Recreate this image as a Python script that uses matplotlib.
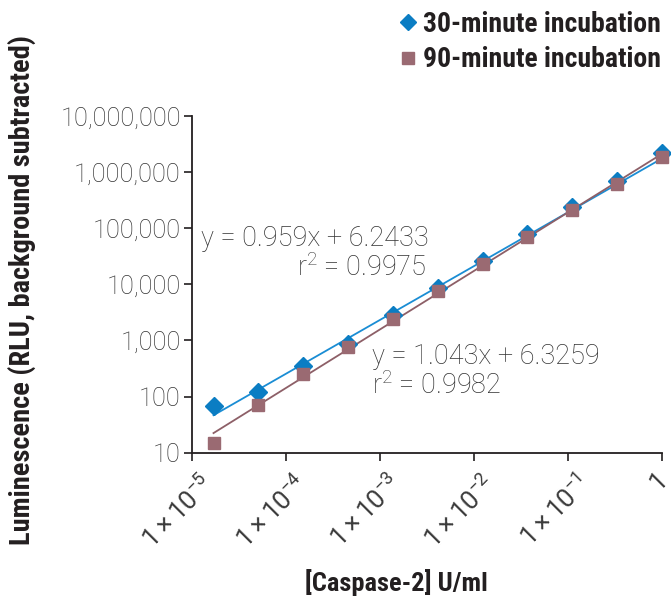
import numpy as np
import matplotlib
matplotlib.use('Agg')
import matplotlib.pyplot as plt
import matplotlib.transforms as mtransforms
from matplotlib.font_manager import FontProperties
from matplotlib.ticker import FixedLocator, FixedFormatter, NullLocator

# three-fold dilution series of caspase-2, highest first (U/ml)
conc = [1, 1/3, 1/9, 1/27, 1/81, 1/243, 1/729, 1/2187, 1/6561, 1/19683, 1/59049]
rlu_30min = [2160000, 693000, 235000, 77800, 26400, 8700, 2840, 880, 355, 120, 69]
rlu_90min = [1880000, 614000, 211000, 68700, 23000, 7600, 2410, 751, 252, 70, 15]

# log10-log10 regressions: slope, intercept, r^2
fit_30min = (0.959, 6.2433, 0.9975)
fit_90min = (1.043, 6.3259, 0.9982)

x_ticks = [1e-5, 1e-4, 1e-3, 1e-2, 1e-1, 1]
x_tick_labels = [r'$1\times10^{-5}$', r'$1\times10^{-4}$', r'$1\times10^{-3}$',
                 r'$1\times10^{-2}$', r'$1\times10^{-1}$', '1']
y_ticks = [10, 100, 1000, 10000, 100000, 1000000, 10000000]
y_tick_labels = ['10', '100', '1,000', '10,000', '100,000', '1,000,000', '10,000,000']

blue = '#0b7dc3'
blue_line = '#1a8dd4'
mauve = '#9a6a72'
mauve_line = '#8d5f67'
ink = '#231f20'
grey_text = '#333333'

plt.rcParams['font.family'] = ['Roboto', 'DejaVu Sans']
plt.rcParams['mathtext.default'] = 'regular'
light = dict(family=['Roboto', 'DejaVu Sans'], weight='light')
heavy = dict(family=['Roboto Condensed', 'Liberation Sans Narrow', 'Roboto', 'DejaVu Sans'],
             weight='bold')

fig = plt.figure(figsize=(6.71, 5.97), dpi=100)
ax = fig.add_axes([192 / 671, 144.3 / 597, 470 / 671, 336.7 / 597])

ax.set_xscale('log')
ax.set_yscale('log')
ax.set_xlim(1e-5, 1)
ax.set_ylim(10, 1e7)

# regression lines over the measured range
for (m, b, _), col in [(fit_30min, blue_line), (fit_90min, mauve_line)]:
    lx = np.log10([min(conc), max(conc)])
    ax.plot(10 ** lx, 10 ** (m * lx + b), color=col, lw=1.3, zorder=2)

h30, = ax.plot(conc, rlu_30min, ls='none', marker='D', ms=9, color=blue,
               clip_on=False, zorder=3)
h90, = ax.plot(conc, rlu_90min, ls='none', marker='s', ms=9, color=mauve,
               clip_on=False, zorder=4)

for side in ['top', 'right']:
    ax.spines[side].set_visible(False)
for side in ['left', 'bottom']:
    ax.spines[side].set_color(ink)
    ax.spines[side].set_linewidth(1.3)

ax.xaxis.set_major_locator(FixedLocator(x_ticks))
ax.xaxis.set_major_formatter(FixedFormatter(x_tick_labels))
ax.yaxis.set_major_locator(FixedLocator(y_ticks))
ax.yaxis.set_major_formatter(FixedFormatter(y_tick_labels))
ax.xaxis.set_minor_locator(NullLocator())
ax.yaxis.set_minor_locator(NullLocator())
ax.tick_params(axis='both', color=ink, width=1.2, length=6, labelcolor=grey_text)
ax.tick_params(axis='y', pad=2)
ax.tick_params(axis='x', pad=4)

# rotated concentration labels sit a little right of their ticks
shift = mtransforms.ScaledTranslation(8 / 100, -4 / 100, fig.dpi_scale_trans)
shift_last = mtransforms.ScaledTranslation(-6 / 100, -1 / 100, fig.dpi_scale_trans)
for lab in ax.get_yticklabels():
    lab.set_fontproperties(FontProperties(**light, size=18.3))
xlabels = ax.get_xticklabels()
for i, lab in enumerate(xlabels):
    lab.set_fontproperties(FontProperties(family=['Roboto', 'DejaVu Sans'], size=18.5))
    lab.set_color('#3a3a3a')
    lab.set_rotation(45)
    lab.set_ha('right')
    lab.set_va('top')
    lab.set_rotation_mode('anchor')
    lab.set_transform(lab.get_transform() + (shift_last if i == len(xlabels) - 1 else shift))

# regression equations
eq_style = dict(transform=ax.transAxes, va='center', size=19.5, color=grey_text, **light)
ax.text(0.019, 0.637, f'y = {fit_30min[0]}x + {fit_30min[1]}', ha='left', **eq_style)
ax.text(0.499, 0.55, f'r$^2$ = {fit_30min[2]}', ha='right', **eq_style)
ax.text(0.384, 0.285, f'y = {fit_90min[0]}x + {fit_90min[1]}', ha='left', **eq_style)
ax.text(0.384, 0.2, f'r$^2$ = {fit_90min[2]}', ha='left', **eq_style)

fig.text(396 / 671, 1 - 583 / 597, '[Caspase-2] U/ml', ha='center', va='center',
         size=19, color=ink, **heavy)
fig.text(22 / 671, 1 - 290 / 597, 'Luminescence (RLU, background subtracted)',
         rotation=90, ha='center', va='center', size=20.4, color=ink, **heavy)

fig.legend([h30, h90], ['30-minute incubation', '90-minute incubation'],
           loc='upper right', bbox_to_anchor=(661 / 671, 1 - 11 / 597),
           frameon=False, handletextpad=0.2, handlelength=0.7, labelspacing=0.3,
           borderpad=0, borderaxespad=0, markerscale=0.9,
           prop=FontProperties(**heavy, size=20), labelcolor=ink)

fig.savefig('out.png', dpi=100)
